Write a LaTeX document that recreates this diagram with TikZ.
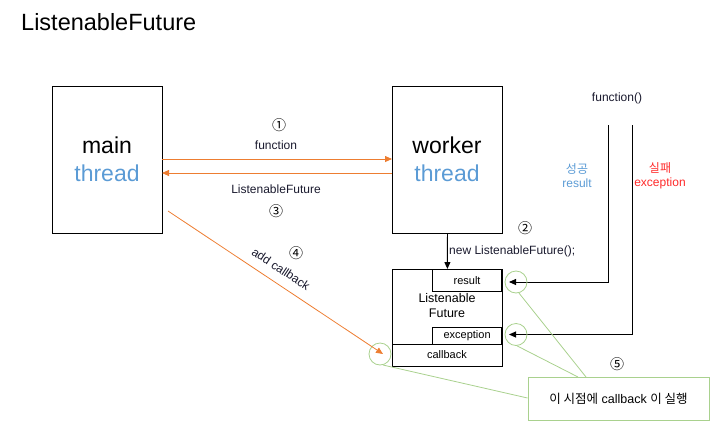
\documentclass[tikz,border=0pt]{standalone}
\usepackage{fontspec}
\setmainfont{Liberation Sans}
\newfontfamily\kr{Noto Sans CJK KR}
\usetikzlibrary{arrows.meta}
\definecolor{orng}{HTML}{ED7D31}
\definecolor{lblue}{HTML}{5B9BD5}
\definecolor{lgreen}{HTML}{A9D18E}
\definecolor{fred}{HTML}{FF2A2A}
\definecolor{txt}{HTML}{1A1A2E}
\tikzset{
  thread/.style={draw, line width=0.9pt, minimum width=110pt, minimum height=147pt, anchor=north west, inner sep=0pt},
  big/.style={font=\fontsize{23}{25}\selectfont},
  lbl/.style={font=\fontsize{12}{14}\selectfont, text=txt, inner sep=1pt},
  inb/.style={font=\fontsize{11}{13}\selectfont},
  num/.style={font=\kr\fontsize{14}{16}\selectfont, inner sep=0pt},
  oarr/.style={draw=orng, line width=0.8pt, -{Triangle[length=7pt,width=6pt]}},
  barr/.style={draw=black, line width=0.9pt, -{Triangle[length=7pt,width=6pt]}},
  box/.style={draw, line width=0.8pt, inner sep=0pt},
  hl/.style={draw=lgreen, line width=0.8pt, circle, minimum size=22pt, inner sep=0pt},
  gline/.style={draw=lgreen, line width=0.8pt},
}
\begin{document}
\begin{tikzpicture}[x=1pt,y=-1pt]
\useasboundingbox (0,0) rectangle (710,421);
\node[anchor=west, font=\fontsize{23.5}{25}\selectfont, inner sep=0pt] (title) at (21,22) {ListenableFuture};

% threads
\node[thread] (main) at (52,86) {};
\node[big] (maint) at (107,145) {main};
\node[big, text=lblue] (mainth) at (107,173) {thread};
\node[thread] (worker) at (392,86) {};
\node[big] (workt) at (447,145) {worker};
\node[big, text=lblue] (workth) at (447,173) {thread};

% arrows between threads
\coordinate (f1) at (162,159);
\coordinate (f2) at (392,159);
\draw[oarr] (f1) -- (f2);
\coordinate (r1) at (392,173);
\coordinate (r2) at (162,173);
\draw[oarr] (r1) -- (r2);
\node[num] (n1) at (279,125) {①};
\node[lbl] (lf) at (276,145) {function};
\node[lbl] (llf) at (276,189) {ListenableFuture};
\node[num] (n3) at (276,211) {③};

% future box
\node[box, minimum width=110pt, minimum height=97pt, anchor=north west] (future) at (392,269) {};
\node[box, minimum width=69pt, minimum height=21.5pt, anchor=north east, inb] (result) at (502,269) {result};
\node[box, minimum width=69pt, minimum height=17pt, anchor=north east, inb] (exc) at (502,327) {exception};
\coordinate (cbl) at (392,344);
\coordinate (cbr) at (502,344);
\draw[line width=0.8pt] (cbl) -- (cbr);
\node[inb, inner sep=0pt] (cb) at (447,355) {callback};
\node[font=\fontsize{12.5}{15}\selectfont, align=center, inner sep=0pt] (lft) at (447,305.5) {Listenable\\Future};

\draw[barr] (worker.south) -- (future.north);
\node[lbl, anchor=west] (newlf) at (448,251) {new ListenableFuture();};
\node[num] (n2) at (525,228) {②};

% function() and outcomes
\node[lbl] (fn) at (617,98) {function()};
\node[lbl, text=lblue, align=center] (succ) at (577,176) {{\kr 성공}\\result};
\node[lbl, text=fred, align=center] (fail) at (660,176) {{\kr 실패}\\exception};
\coordinate (rs) at (608,125);
\coordinate (es) at (632,125);
\coordinate (rt) at (509,282);
\coordinate (et) at (509,334.5);
\draw[barr] (rs) |- (rt);
\draw[barr] (es) |- (et);

% highlight circles
\node[hl] (c1) at (516,282) {};
\node[hl] (c2) at (516,334.5) {};
\node[hl] (c3) at (380,354) {};

% add callback
\coordinate (ac1) at (168,211);
\coordinate (ac2) at (383,354);
\draw[oarr] (ac1) -- (ac2);
\node[lbl, rotate=-33.6] (acl) at (281,269) {add callback};
\node[num] (n4) at (296,253) {④};

% note
\node[draw=lgreen, line width=0.9pt, minimum width=181pt, minimum height=43pt, anchor=north west, inner sep=0pt, font=\fontsize{12.5}{14}\selectfont] (note) at (527.5,377) {{\kr 이 시점에} callback {\kr 이 실행}};
\node[num] (n5) at (617,364) {⑤};
\coordinate (g1) at (586,377);
\coordinate (g2) at (578,377);
\coordinate (g3) at (527.5,398);
\draw[gline] (c1.-75) -- (g1);
\draw[gline] (c2.-85) -- (g2);
\draw[gline] (c3.-75) -- (g3);
\end{tikzpicture}
\end{document}
